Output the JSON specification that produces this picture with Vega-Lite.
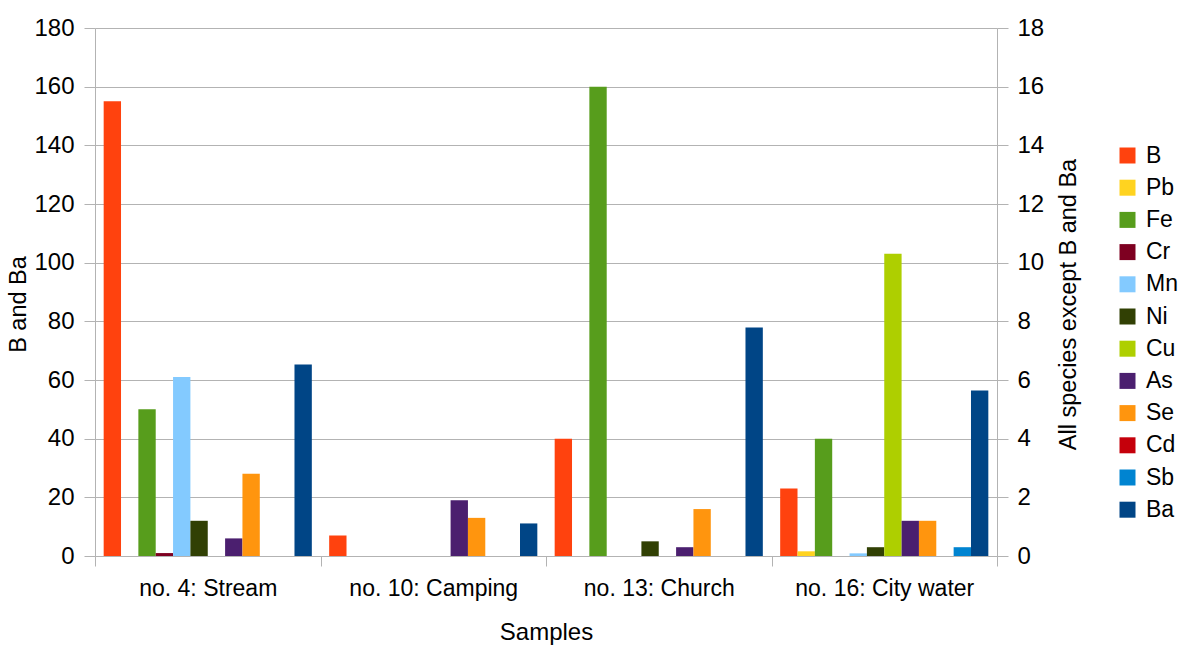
{
  "$schema": "https://vega.github.io/schema/vega-lite/v6.json",
  "autosize": "none",
  "width": 902,
  "height": 528,
  "padding": {"left": 95, "top": 28, "right": 186, "bottom": 90},
  "background": "white",
  "config": {
    "font": "Liberation Sans",
    "view": {"stroke": null},
    "axis": {
      "domainColor": "#b3b3b3",
      "tickColor": "#b3b3b3",
      "gridColor": "#b3b3b3",
      "labelColor": "black",
      "titleColor": "black",
      "titleFontWeight": "normal",
      "labelFont": "Liberation Sans",
      "titleFont": "Liberation Sans"
    },
    "legend": {"labelFont": "Liberation Sans"}
  },
  "data": {
    "values": [
      {"sample": "no. 4: Stream", "species": "B", "value": 155},
      {"sample": "no. 4: Stream", "species": "Pb", "value": 0},
      {"sample": "no. 4: Stream", "species": "Fe", "value": 5.0},
      {"sample": "no. 4: Stream", "species": "Cr", "value": 0.1},
      {"sample": "no. 4: Stream", "species": "Mn", "value": 6.1},
      {"sample": "no. 4: Stream", "species": "Ni", "value": 1.2},
      {"sample": "no. 4: Stream", "species": "Cu", "value": 0},
      {"sample": "no. 4: Stream", "species": "As", "value": 0.6},
      {"sample": "no. 4: Stream", "species": "Se", "value": 2.8},
      {"sample": "no. 4: Stream", "species": "Cd", "value": 0},
      {"sample": "no. 4: Stream", "species": "Sb", "value": 0},
      {"sample": "no. 4: Stream", "species": "Ba", "value": 65.3},
      {"sample": "no. 10: Camping", "species": "B", "value": 7},
      {"sample": "no. 10: Camping", "species": "Pb", "value": 0},
      {"sample": "no. 10: Camping", "species": "Fe", "value": 0},
      {"sample": "no. 10: Camping", "species": "Cr", "value": 0},
      {"sample": "no. 10: Camping", "species": "Mn", "value": 0},
      {"sample": "no. 10: Camping", "species": "Ni", "value": 0},
      {"sample": "no. 10: Camping", "species": "Cu", "value": 0},
      {"sample": "no. 10: Camping", "species": "As", "value": 1.9},
      {"sample": "no. 10: Camping", "species": "Se", "value": 1.3},
      {"sample": "no. 10: Camping", "species": "Cd", "value": 0},
      {"sample": "no. 10: Camping", "species": "Sb", "value": 0},
      {"sample": "no. 10: Camping", "species": "Ba", "value": 11.1},
      {"sample": "no. 13: Church", "species": "B", "value": 40},
      {"sample": "no. 13: Church", "species": "Pb", "value": 0},
      {"sample": "no. 13: Church", "species": "Fe", "value": 16},
      {"sample": "no. 13: Church", "species": "Cr", "value": 0},
      {"sample": "no. 13: Church", "species": "Mn", "value": 0},
      {"sample": "no. 13: Church", "species": "Ni", "value": 0.5},
      {"sample": "no. 13: Church", "species": "Cu", "value": 0},
      {"sample": "no. 13: Church", "species": "As", "value": 0.3},
      {"sample": "no. 13: Church", "species": "Se", "value": 1.6},
      {"sample": "no. 13: Church", "species": "Cd", "value": 0},
      {"sample": "no. 13: Church", "species": "Sb", "value": 0},
      {"sample": "no. 13: Church", "species": "Ba", "value": 77.9},
      {"sample": "no. 16: City water", "species": "B", "value": 23},
      {"sample": "no. 16: City water", "species": "Pb", "value": 0.16},
      {"sample": "no. 16: City water", "species": "Fe", "value": 4.0},
      {"sample": "no. 16: City water", "species": "Cr", "value": 0},
      {"sample": "no. 16: City water", "species": "Mn", "value": 0.09},
      {"sample": "no. 16: City water", "species": "Ni", "value": 0.3},
      {"sample": "no. 16: City water", "species": "Cu", "value": 10.3},
      {"sample": "no. 16: City water", "species": "As", "value": 1.2},
      {"sample": "no. 16: City water", "species": "Se", "value": 1.2},
      {"sample": "no. 16: City water", "species": "Cd", "value": 0},
      {"sample": "no. 16: City water", "species": "Sb", "value": 0.3},
      {"sample": "no. 16: City water", "species": "Ba", "value": 56.4}
    ]
  },
  "encoding": {
    "x": {
      "field": "sample",
      "type": "nominal",
      "sort": ["no. 4: Stream", "no. 10: Camping", "no. 13: Church", "no. 16: City water"],
      "scale": {"paddingInner": 0, "paddingOuter": 0},
      "axis": {
        "title": "Samples",
        "labelAngle": 0,
        "tickBand": "extent",
        "tickSize": 10,
        "labelFontSize": 23,
        "labelPadding": 11,
        "titleFontSize": 24,
        "titlePadding": 20
      }
    },
    "xOffset": {
      "field": "species",
      "type": "nominal",
      "scale": {
        "domain": ["B", "Pb", "Fe", "Cr", "Mn", "Ni", "Cu", "As", "Se", "Cd", "Sb", "Ba"],
        "paddingInner": 0,
        "paddingOuter": 0.5
      }
    },
    "color": {
      "field": "species",
      "type": "nominal",
      "scale": {
        "domain": ["B", "Pb", "Fe", "Cr", "Mn", "Ni", "Cu", "As", "Se", "Cd", "Sb", "Ba"],
        "range": ["#ff420e", "#ffd320", "#579d1c", "#7e0021", "#83caff", "#314004", "#aecf00", "#4b1f6f", "#ff950e", "#c5000b", "#0084d1", "#004586"]
      },
      "legend": {
        "title": null,
        "orient": "none",
        "legendX": 1021,
        "legendY": 116,
        "padding": 0,
        "symbolType": "square",
        "symbolSize": 256,
        "symbolStrokeWidth": 0,
        "labelFontSize": 23,
        "labelOffset": 7,
        "rowPadding": 8.2
      }
    }
  },
  "layer": [
    {
      "transform": [{"filter": {"field": "species", "oneOf": ["B", "Ba"]}}],
      "mark": {"type": "bar"},
      "encoding": {
        "y": {
          "field": "value",
          "type": "quantitative",
          "scale": {"domain": [0, 180], "nice": false},
          "axis": {
            "title": "B and Ba",
            "orient": "left",
            "values": [0, 20, 40, 60, 80, 100, 120, 140, 160, 180],
            "grid": true,
            "tickSize": 11,
            "labelFontSize": 24,
            "labelPadding": 10,
            "titleFontSize": 23.5,
            "titlePadding": 3,
            "titleY": 276
          }
        }
      }
    },
    {
      "transform": [{"filter": {"not": {"field": "species", "oneOf": ["B", "Ba"]}}}],
      "mark": {"type": "bar"},
      "encoding": {
        "y": {
          "field": "value",
          "type": "quantitative",
          "scale": {"domain": [0, 18], "nice": false},
          "axis": {
            "title": "All species except B and Ba",
            "orient": "right",
            "values": [0, 2, 4, 6, 8, 10, 12, 14, 16, 18],
            "grid": false,
            "tickSize": 11,
            "labelFontSize": 24,
            "labelPadding": 9,
            "titleFontSize": 23.5,
            "titlePadding": 13,
            "titleAngle": 270,
            "titleBaseline": "top",
            "titleY": 276
          }
        }
      }
    }
  ],
  "resolve": {"scale": {"y": "independent"}, "axis": {"y": "independent"}}
}
